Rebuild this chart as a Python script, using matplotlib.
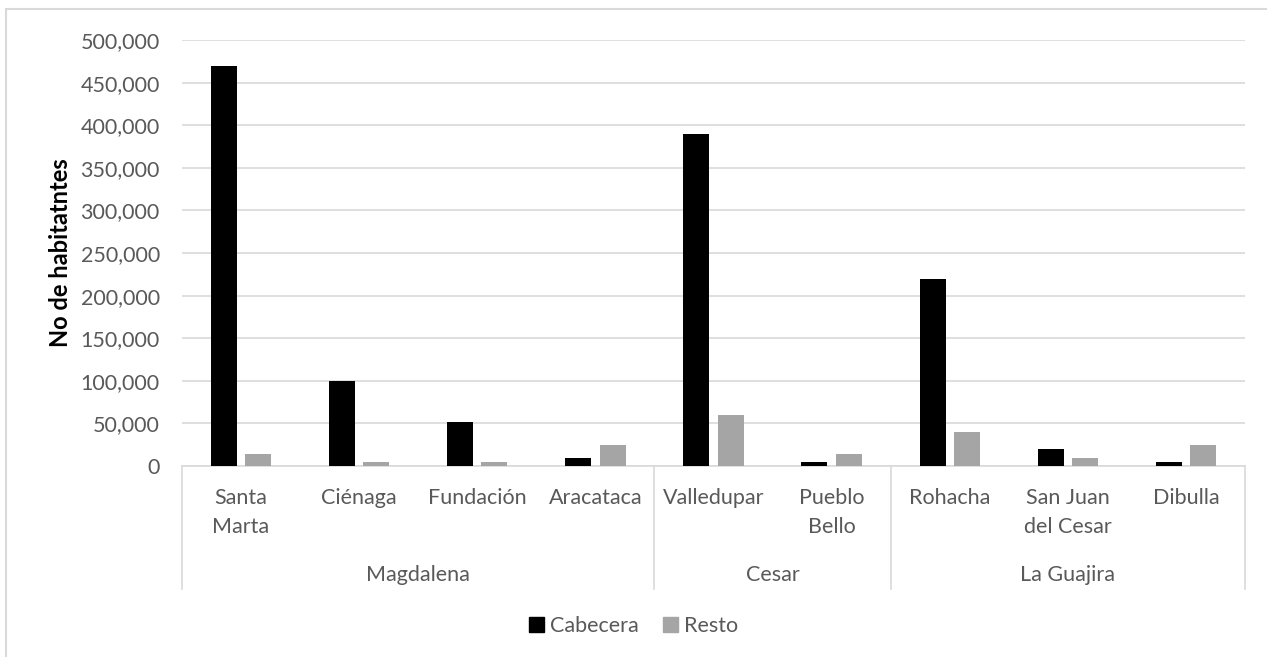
import matplotlib
matplotlib.use("Agg")
import matplotlib.pyplot as plt
from matplotlib.patches import Rectangle, Patch
from matplotlib.lines import Line2D
from matplotlib.ticker import FuncFormatter
import numpy as np

plt.rcParams['font.family'] = ['Lato', 'DejaVu Sans']

municipios = ["Santa\nMarta", "Ciénaga", "Fundación", "Aracataca", "Valledupar",
              "Pueblo\nBello", "Rohacha", "San Juan\ndel Cesar", "Dibulla"]
departamentos = ["Magdalena", "Cesar", "La Guajira"]
n_por_depto = [4, 2, 3]
cabecera = [470000, 100000, 52000, 9500, 390000, 4300, 220000, 19500, 4300]
resto = [14500, 4300, 4300, 24300, 60000, 14500, 39500, 9500, 24300]

W, H = 1267, 657
fig = plt.figure(figsize=(W / 100, H / 100), dpi=100)
ax = fig.add_axes([182 / W, 1 - 466 / H, (1245 - 182) / W, (466 - 40) / H])

gris_txt = "#595959"
gris_lin = "#d9d9d9"
fs = 15.5

x = np.arange(len(municipios))
ax.bar(x - 0.145, cabecera, width=0.22, color="black", zorder=3)
ax.bar(x + 0.145, resto, width=0.22, color="#a5a5a5", zorder=3)

ax.set_xlim(-0.5, len(municipios) - 0.5)
ax.set_ylim(0, 500000)
ax.set_yticks(np.arange(0, 500001, 50000))
ax.yaxis.set_major_formatter(FuncFormatter(lambda v, p: f"{int(v):,}"))
ax.grid(axis="y", color=gris_lin, linewidth=1.2, zorder=0)
ax.set_xticks([])
ax.tick_params(axis="y", length=0, labelsize=fs, labelcolor=gris_txt, pad=16)
for s in ["top", "right", "left"]:
    ax.spines[s].set_visible(False)
ax.spines["bottom"].set_color(gris_lin)
ax.spines["bottom"].set_linewidth(1.2)

ax.set_ylabel("No de habitatntes", fontsize=17, fontweight="bold", color="black", labelpad=6)

# etiquetas de dos niveles bajo el eje
trans_fig = matplotlib.transforms.blended_transform_factory(ax.transData, fig.transFigure)
for i, nombre in enumerate(municipios):
    fig.text(i, 1 - 488 / H, nombre, transform=trans_fig, ha="center", va="top",
             fontsize=fs, color=gris_txt, linespacing=1.55)

bordes = [-0.5]
pos = -0.5
for n in n_por_depto:
    pos += n
    bordes.append(pos)
for k, depto in enumerate(departamentos):
    centro = (bordes[k] + bordes[k + 1]) / 2
    fig.text(centro, 1 - 575 / H, depto, transform=trans_fig, ha="center", va="center",
             fontsize=fs, color=gris_txt)
for b in bordes:
    fig.add_artist(Line2D([b, b], [1 - 466 / H, 1 - 589 / H], transform=trans_fig,
                          color=gris_lin, linewidth=1.2))

handles = [Patch(color="black", label="Cabecera"), Patch(color="#a5a5a5", label="Resto")]
leg = fig.legend(handles=handles, loc="center", bbox_to_anchor=(0.5, 1 - 626 / H), ncol=2,
                 frameon=False, fontsize=fs, handlelength=0.7, handleheight=0.7,
                 handletextpad=0.3, columnspacing=1.1)
for t in leg.get_texts():
    t.set_color(gris_txt)

fig.add_artist(Rectangle((6 / W, -0.1), 1.1, 1.1 - 9 / H, transform=fig.transFigure,
                         fill=False, edgecolor=gris_lin, linewidth=1.5))

fig.savefig("out.png", dpi=100)
